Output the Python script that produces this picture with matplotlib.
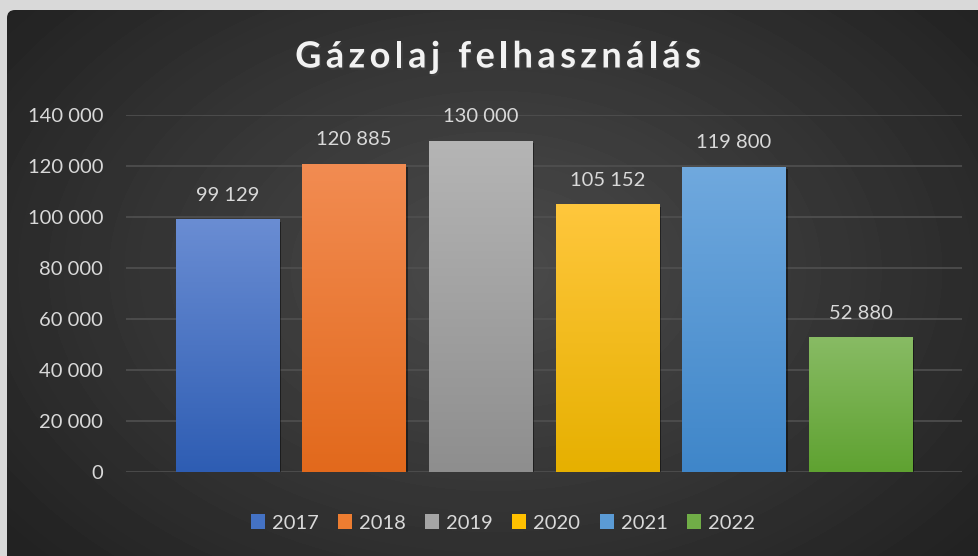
import numpy as np
import matplotlib.pyplot as plt
from matplotlib.patches import Patch, FancyBboxPatch
from matplotlib.colors import LinearSegmentedColormap
import matplotlib.patheffects as pe

# --- Daten ---
years = ['2017', '2018', '2019', '2020', '2021', '2022']
values = [99129, 120885, 130000, 105152, 119800, 52880]
title = 'Gázolaj felhasználás'
y_ticks = [0, 20000, 40000, 60000, 80000, 100000, 120000, 140000]

# Farbverlauf je Balken (oben, unten)
top_colors = ['#6a8dd3', '#f28c52', '#b5b5b5', '#ffc73d', '#70a9de', '#88bb64']
bottom_colors = ['#2e5db3', '#e2691c', '#8e8e8e', '#e6b000', '#3f86c9', '#5fa231']
base_colors = ['#4472c4', '#ed7d31', '#a5a5a5', '#ffc000', '#5b9bd5', '#70ad47']

plt.rcParams['font.family'] = ['Lato', 'DejaVu Sans']
text_col = '#d9d9d9'

W, H = 979, 556
fig = plt.figure(figsize=(W / 100, H / 100), dpi=100)
fig.patch.set_facecolor('#d9d9d9')

# --- Hintergrund mit radialem Verlauf ---
bg = fig.add_axes([0, 0, 1, 1])
bg.set_xlim(0, W)
bg.set_ylim(H, 0)
bg.axis('off')
yy, xx = np.mgrid[0:H, 0:W]
r = np.sqrt(((xx - 495) / 620.0) ** 2 + ((yy - 270) / 420.0) ** 2)
shade = 0.295 - 0.16 * np.clip(r, 0, 1)
img = bg.imshow(shade, cmap='gray', vmin=0, vmax=1, extent=(0, W, H, 0),
                aspect='auto', zorder=0)
panel = FancyBboxPatch((7, 10), W + 50, H + 50,
                       boxstyle='round,pad=0,rounding_size=8',
                       facecolor='none', edgecolor='none', transform=bg.transData)
bg.add_patch(panel)
img.set_clip_path(panel)

# --- Diagramm ---
ax = fig.add_axes([126 / W, 1 - 472 / H, (962 - 126) / W, (472 - 115) / H])
ax.set_facecolor('none')
x = np.arange(len(years))
bars = ax.bar(x, values, width=0.815, color=base_colors, zorder=2)

for i, b in enumerate(bars):
    b.set_path_effects([pe.SimplePatchShadow(offset=(1.5, -2), alpha=0.45,
                                             shadow_rgbFace='black'), pe.Normal()])
    cmap = LinearSegmentedColormap.from_list('g', [bottom_colors[i], top_colors[i]])
    x0, y0 = b.get_x(), b.get_y()
    grad = np.linspace(1, 0, 256).reshape(-1, 1)
    gi = ax.imshow(grad, cmap=cmap, extent=(x0, x0 + b.get_width(), y0, y0 + b.get_height()),
                   aspect='auto', zorder=2.5, interpolation='bicubic')
    gi.set_clip_path(b)

ax.set_xlim(-0.8, len(years) - 0.2)
ax.set_ylim(0, 140000)
ax.set_yticks(y_ticks)
ax.set_yticklabels([f'{v:,}'.replace(',', ' ') for v in y_ticks])
ax.set_xticks([])
ax.tick_params(axis='y', length=0, pad=16.5, labelsize=14.5, labelcolor=text_col)
ax.grid(axis='y', color='#505050', linewidth=1.2, zorder=1)
for s in ax.spines.values():
    s.set_visible(False)

ax.bar_label(bars, labels=[f'{v:,}'.replace(',', ' ') for v in values],
             padding=11, fontsize=14.5, color=text_col)

# --- Titel mit Buchstabenabstand ---
fig.canvas.draw()
renderer = fig.canvas.get_renderer()
title_kw = dict(fontsize=26, fontweight='bold', color='#f2f2f2', va='center',
                path_effects=[pe.withSimplePatchShadow(offset=(1, -1.5), alpha=0.5)])
spacing = 4.4  # Pixel zwischen Buchstaben
widths = []
for ch in title:
    t = fig.text(0, 0, ch if ch != ' ' else 'n', **title_kw)
    w = t.get_window_extent(renderer).width
    if ch == ' ':
        w = w * 0.45
    widths.append(w)
    t.remove()
total = sum(widths) + spacing * (len(title) - 1)
xpos = 498 - total / 2
for ch, w in zip(title, widths):
    if ch != ' ':
        fig.text(xpos / W, 1 - 57 / H, ch, ha='left', **title_kw)
    xpos += w + spacing

# --- Legende ---
handles = [Patch(facecolor=c, label=y) for c, y in zip(base_colors, years)]
leg = fig.legend(handles=handles, loc='center', bbox_to_anchor=(503 / W, 1 - 523 / H),
                 ncol=6, frameon=False, fontsize=14.5, handlelength=0.7,
                 handleheight=0.7, handletextpad=0.35, columnspacing=0.95)
for t in leg.get_texts():
    t.set_color(text_col)

fig.savefig('out.png', dpi=100, facecolor=fig.get_facecolor())
